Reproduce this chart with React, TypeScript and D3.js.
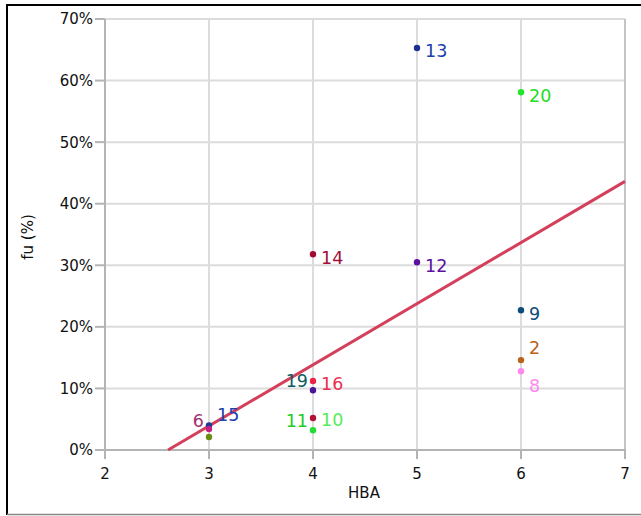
import React from "react";
import * as d3 from "d3";

// Data points (HBA, fu fraction, colour)
const pointHBA = [5, 6, 4, 5, 6, 6, 6, 4, 4, 4, 4, 3, 3, 3];
const pointFu = [0.653, 0.581, 0.318, 0.305, 0.227, 0.146, 0.128, 0.112, 0.097, 0.052, 0.032, 0.04, 0.034, 0.021];
const pointColors = ["#1a2f94", "#22e62a", "#9e0c32", "#5b10a0", "#0b4c7a", "#b8621a", "#ff88ee", "#ee2246", "#4a1494", "#b41232", "#22dd33", "#1a3a94", "#c4207f", "#6a8c12"];

// Labels
const labelText = ["13", "20", "14", "12", "9", "2", "8", "16", "19", "11", "10", "6", "15"];
const labelHBA = [5, 6, 4, 5, 6, 6, 6, 4, 4, 4, 4, 3, 3];
const labelFu = [0.649, 0.575, 0.313, 0.300, 0.222, 0.166, 0.105, 0.107, 0.112, 0.047, 0.049, 0.047, 0.057];
const labelSide = ["right", "right", "right", "right", "right", "right", "right", "right", "left", "left", "right", "left", "right"];
const labelColors = ["#2040aa", "#22dd22", "#a0103a", "#5a10a0", "#0b4c7a", "#b8621a", "#ff88ee", "#ea304e", "#0e5c60", "#22cc22", "#55ee55", "#a03070", "#2040b0"];

// Regression line: fu = intercept + slope * HBA
const regIntercept = -0.2588;
const regSlope = 0.0993;

const xTicks = [2, 3, 4, 5, 6, 7];
const yTicks = [0, 0.1, 0.2, 0.3, 0.4, 0.5, 0.6, 0.7];

export default function App() {
  const W = 641, H = 516;
  const x = d3.scaleLinear().domain([2, 7]).range([105, 625]);
  const y = d3.scaleLinear().domain([0, 0.7]).range([450, 19]);
  const fmt = d3.format(".0%");
  const font = "DejaVu Sans, Verdana, sans-serif";

  const x0 = -regIntercept / regSlope;
  const x1 = 7;
  const line = d3.line<number>().x((d) => x(d)).y((d) => y(regIntercept + regSlope * d));

  return (
    <svg width={W} height={H} style={{ position: "absolute", left: 0, top: 0 }} fontFamily={font}>
      <rect x={0} y={0} width={W} height={H} fill="#fff" />
      {/* frame */}
      <line x1={6} x2={W} y1={5} y2={5} stroke="#000" strokeWidth={2} />
      <line x1={7} x2={7} y1={4} y2={515} stroke="#000" strokeWidth={2} />
      <line x1={7} x2={W} y1={514.5} y2={514.5} stroke="#888" strokeWidth={1.5} />

      {/* grid */}
      {xTicks.map((t) => (
        <line key={"gx" + t} x1={x(t)} x2={x(t)} y1={y(0.7)} y2={y(0)} stroke="#dcdcdc" strokeWidth={2} />
      ))}
      {yTicks.map((t) => (
        <line key={"gy" + t} x1={x(2)} x2={x(7)} y1={y(t)} y2={y(t)} stroke="#dcdcdc" strokeWidth={2} />
      ))}

      {/* axes */}
      <line x1={x(2)} x2={x(2)} y1={y(0.7)} y2={y(0) + 1} stroke="#b4b4b4" strokeWidth={2} />
      <line x1={x(7)} x2={x(7)} y1={y(0.7)} y2={y(0) + 1} stroke="#c4c4c4" strokeWidth={2} />
      <line x1={x(2) - 1} x2={x(7) + 1} y1={y(0)} y2={y(0)} stroke="#b4b4b4" strokeWidth={2} />
      {xTicks.map((t) => (
        <g key={"tx" + t}>
          <line x1={x(t)} x2={x(t)} y1={y(0)} y2={y(0) + 9} stroke="#b4b4b4" strokeWidth={2} />
          <text x={x(t)} y={479} textAnchor="middle" fontSize={15} fill="#111">{t}</text>
        </g>
      ))}
      {yTicks.map((t) => (
        <g key={"ty" + t}>
          <line x1={x(2) - 10} x2={x(2)} y1={y(t)} y2={y(t)} stroke="#b4b4b4" strokeWidth={2} />
          <text x={93} y={y(t)} dy="0.36em" textAnchor="end" fontSize={15} fill="#111">{fmt(t)}</text>
        </g>
      ))}
      <text x={364} y={498} textAnchor="middle" fontSize={15} fill="#111">HBA</text>
      <text transform={`translate(33,237) rotate(-90)`} textAnchor="middle" fontSize={15} fill="#111">fu (%)</text>

      {/* regression */}
      <path d={line([x0, x1]) || ""} fill="none" stroke="#d4405c" strokeWidth={3} />

      {/* points */}
      {pointHBA.map((h, i) => (
        <circle key={"p" + i} cx={x(h)} cy={y(pointFu[i])} r={3.2} fill={pointColors[i]} />
      ))}

      {/* labels */}
      {labelText.map((t, i) => {
        const right = labelSide[i] === "right";
        return (
          <text
            key={"l" + i}
            x={x(labelHBA[i]) + (right ? 8 : -5)}
            y={y(labelFu[i])}
            dy="0.36em"
            textAnchor={right ? "start" : "end"}
            fontSize={17.5}
            fill={labelColors[i]}
          >
            {t}
          </text>
        );
      })}
    </svg>
  );
}
